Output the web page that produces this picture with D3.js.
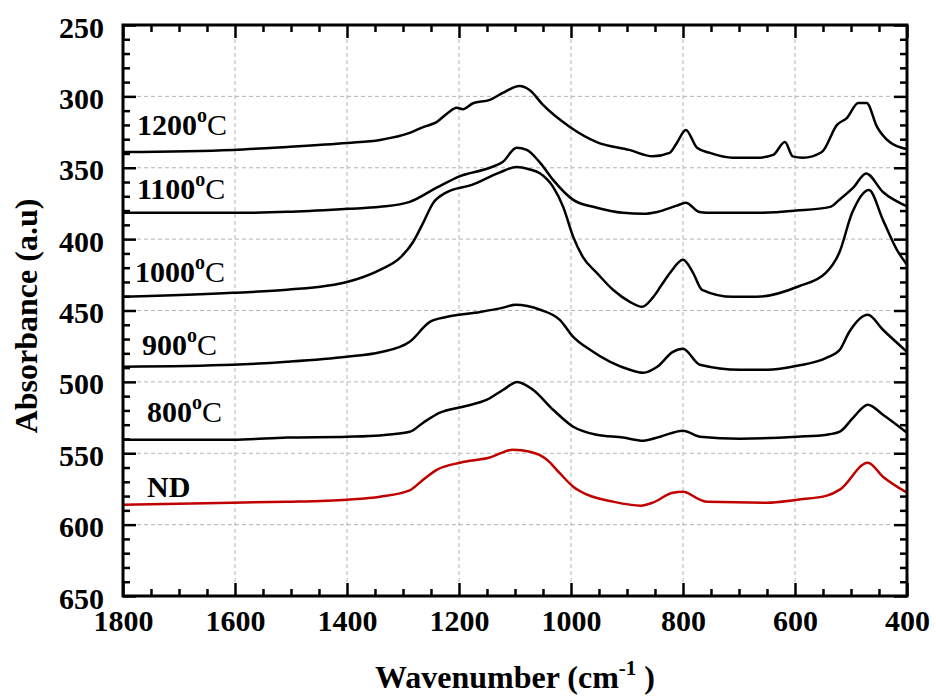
<!DOCTYPE html>
<html>
<head>
<meta charset="utf-8">
<script src="https://cdn.jsdelivr.net/npm/d3@7"></script>
<style>
  body { margin: 0; background: #fff; }
  svg text { font-family: "Liberation Serif", "Times New Roman", serif; }
</style>
</head>
<body>
<svg id="chart" width="936" height="697"></svg>
<script>
// spectra: [wavenumber, absorbance]
const s1200 = [[1800,339],[1604,337.5],[1507,335.4],[1400,332.6],[1341,330.5],[1288,325.6],[1264,321.5],[1240,318],[1220,311.6],[1204,308],[1193,309],[1175,304.8],[1145,302.5],[1122,297.6],[1092,292.7],[1074,295.5],[1050,306],[1002,321.4],[954,332],[896,337.5],[854,342],[824,339.6],[811,332.6],[795,323.5],[775,336],[752,339.6],[711,343],[668,343],[639,341],[618,332],[604,342],[586,343],[552,339],[525,320],[507,315],[487,304.6],[472,304.6],[454,321],[431,332],[400,337]];
const s1100 = [[1800,381.6],[1604,381.6],[1507,380.9],[1400,378.8],[1341,377.4],[1288,373.9],[1240,364],[1199,356],[1145,350],[1122,346],[1097,336],[1079,337.5],[1055,346.6],[1032,358.5],[996,372.5],[954,378],[907,381.6],[871,382.3],[846,381],[811,376.5],[795,374.6],[771,381],[757,381.5],[668,381.6],[598,380],[537,377.4],[521,372.5],[496,364],[473,354],[443,367],[400,377]];
const s1000 = [[1800,440.4],[1604,437.6],[1507,435.5],[1400,430],[1341,421.5],[1305,413],[1282,402],[1264,388.6],[1246,374.6],[1224,367.6],[1177,362],[1129,353.6],[1097,349.4],[1075,351],[1055,354],[1032,363.4],[1014,377.4],[996,398.4],[979,412.4],[954,423.6],[925,435.5],[895,443.9],[873,447.4],[854,441],[838,432],[823,423.6],[800,414.5],[782,423.6],[766,435.5],[711,440.4],[668,440.4],[593,433],[545,423.6],[521,409.6],[498,381.6],[468,365.5],[443,386.5],[418,407.5],[400,418]];
const s900 = [[1800,489.4],[1604,488],[1507,485.9],[1400,482.4],[1341,479.3],[1288,471.9],[1252,458],[1221,454.4],[1162,451],[1121,448],[1099,446],[1055,449.5],[1020,456.5],[996,468.4],[966,477.5],[930,486],[895,491.5],[871,493.6],[846,489.4],[818,479],[800,476.8],[770,488],[698,491.5],[650,491.5],[596,488.7],[543,483],[520,477.5],[504,465.6],[470,453],[443,463.5],[400,479]];
const s800 = [[1800,540.5],[1604,540.5],[1507,539],[1400,538.4],[1341,537.5],[1288,535],[1264,528.6],[1234,521.6],[1193,517.4],[1150,512.5],[1121,505.5],[1096,500],[1068,505.5],[1032,519.5],[996,531.4],[954,537],[907,539],[871,541.2],[841,538.4],[800,534.2],[770,538.4],[698,539.8],[596,538.4],[543,537],[520,534.9],[496,525],[470,516],[443,523],[400,535.6]];
const sND = [[1800,586],[1604,584.6],[1507,584],[1400,582.5],[1341,580.4],[1288,576],[1264,568.5],[1239,561.5],[1198,556.6],[1145,553],[1104,547.5],[1073,549],[1043,554.5],[1020,564],[996,573.4],[971,579],[925,583.9],[875,586.7],[854,584.6],[818,577.6],[800,577],[770,582.5],[757,584],[650,584.6],[596,582.5],[543,579.7],[520,575.5],[470,556.6],[443,566.4],[400,577.6]];

const seriesNames = ["1200", "1100", "1000", "900", "800", "ND"];
const seriesData = [s1200, s1100, s1000, s900, s800, sND];
const seriesColors = ["#000", "#000", "#000", "#000", "#000", "#c00000"];

const xTicks = [1800, 1600, 1400, 1200, 1000, 800, 600, 400];
const yTicks = [250, 300, 350, 400, 450, 500, 550, 600, 650];

const FONT = '"Liberation Serif", "Times New Roman", serif';
const margin = { top: 25, right: 29, bottom: 101, left: 123 };
const W = 936, H = 697;
const width = W - margin.left - margin.right,
  height = H - margin.top - margin.bottom;

const svg = d3.select("#chart");
const g = svg.append("g").attr("transform", `translate(${margin.left},${margin.top})`);

const x = d3.scaleLinear().domain([1800, 400]).range([0, width]);
const y = d3.scaleLinear().domain([250, 650]).range([0, height]);

// grid
g.append("g")
  .selectAll("line")
  .data(xTicks.slice(1, -1))
  .join("line")
  .attr("x1", (d) => x(d)).attr("x2", (d) => x(d))
  .attr("y1", 0).attr("y2", height)
  .attr("stroke", "#b4b4b4").attr("stroke-width", 1).attr("stroke-dasharray", "4,3");
g.append("g")
  .selectAll("line")
  .data(yTicks.slice(1, -1))
  .join("line")
  .attr("y1", (d) => y(d)).attr("y2", (d) => y(d))
  .attr("x1", 0).attr("x2", width)
  .attr("stroke", "#b4b4b4").attr("stroke-width", 1).attr("stroke-dasharray", "4,3");

// curves
const line = d3.line()
  .x((d) => x(d[0]))
  .y((d) => y(d[1]))
  .curve(d3.curveMonotoneX);

g.append("g")
  .selectAll("path")
  .data(seriesData)
  .join("path")
  .attr("d", line)
  .attr("fill", "none")
  .attr("stroke", (d, i) => seriesColors[i])
  .attr("stroke-width", 2.5)
  .attr("stroke-linejoin", "round");

// frame
g.append("rect")
  .attr("width", width).attr("height", height)
  .attr("fill", "none").attr("stroke", "#000").attr("stroke-width", 3);

// ticks (inward, all four sides)
const minorX = d3.range(1800, 399, -50).filter((v) => !xTicks.includes(v));
const minorY = d3.range(250, 651, 10).filter((v) => !yTicks.includes(v));

function styleAxis(sel) {
  sel.attr("font-family", FONT);
  sel.select(".domain").remove();
  sel.selectAll(".tick line").attr("stroke", "#000").attr("stroke-width", 2.5);
  sel.selectAll("text")
    .attr("fill", "#000")
    .style("font-family", FONT)
    .style("font-size", "30px")
    .style("font-weight", "bold");
}

g.append("g").attr("transform", `translate(0,${height})`)
  .call(d3.axisBottom(x).tickValues(xTicks).tickSize(-13).tickPadding(14).tickFormat(d3.format("d")))
  .call(styleAxis);
g.append("g").attr("transform", `translate(0,${height})`)
  .call(d3.axisBottom(x).tickValues(minorX).tickSize(-7).tickFormat(""))
  .call(styleAxis);
g.append("g")
  .call(d3.axisTop(x).tickValues(xTicks).tickSize(-13).tickFormat(""))
  .call(styleAxis);
g.append("g")
  .call(d3.axisTop(x).tickValues(minorX).tickSize(-7).tickFormat(""))
  .call(styleAxis);

g.append("g")
  .call(d3.axisLeft(y).tickValues(yTicks).tickSize(-13).tickPadding(19).tickFormat(d3.format("d")))
  .call(styleAxis)
  .call((a) => a.selectAll("text").attr("dy", "0.4em"));
g.append("g")
  .call(d3.axisLeft(y).tickValues(minorY).tickSize(-7).tickFormat(""))
  .call(styleAxis);
g.append("g").attr("transform", `translate(${width},0)`)
  .call(d3.axisRight(y).tickValues(yTicks).tickSize(-13).tickFormat(""))
  .call(styleAxis);
g.append("g").attr("transform", `translate(${width},0)`)
  .call(d3.axisRight(y).tickValues(minorY).tickSize(-7).tickFormat(""))
  .call(styleAxis);

// series labels
const labelPos = [[137, 135], [137, 199], [135, 282], [142, 355], [147, 422], [147, 497]];
seriesNames.forEach((name, i) => {
  const t = svg.append("text")
    .attr("x", labelPos[i][0]).attr("y", labelPos[i][1])
    .style("font-family", FONT)
    .style("font-size", "30px").style("font-weight", "bold").attr("fill", "#000");
  t.append("tspan").text(name);
  if (name !== "ND") {
    t.append("tspan").attr("dy", -13).style("font-size", "20px").text("o");
    t.append("tspan").attr("dy", 13).style("font-weight", "normal").text("C");
  }
});

// axis titles
const xt = svg.append("text")
  .attr("x", 515).attr("y", 688)
  .attr("text-anchor", "middle")
  .style("font-family", FONT)
  .style("font-size", "32px").style("font-weight", "bold");
xt.append("tspan").text("Wavenumber (cm");
xt.append("tspan").attr("dy", -13).style("font-size", "21px").text("-1");
xt.append("tspan").attr("dy", 13).text(" )");

svg.append("text")
  .attr("transform", "translate(37,316) rotate(-90)")
  .attr("text-anchor", "middle")
  .style("font-family", FONT)
  .style("font-size", "32px").style("font-weight", "bold")
  .text("Absorbance (a.u)");
</script>
</body>
</html>
